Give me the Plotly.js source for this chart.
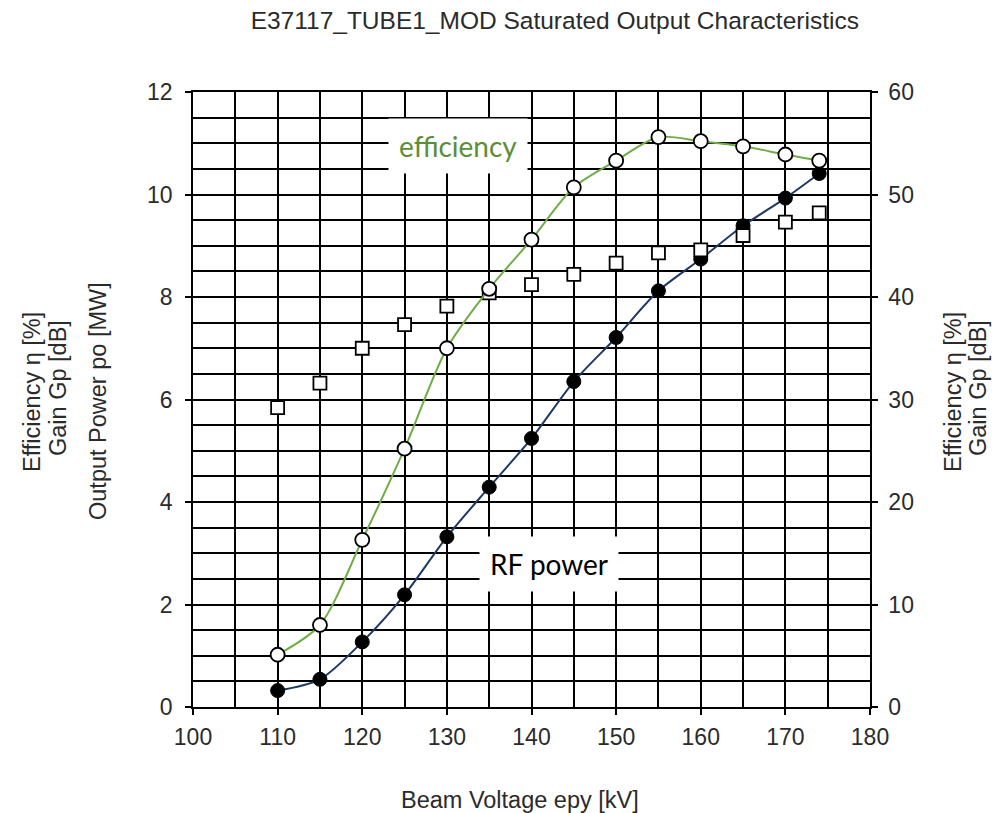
<!DOCTYPE html>
<html><head><meta charset="utf-8">
<script src="https://cdn.plot.ly/plotly-3.0.1.min.js"></script>
<style>html,body{margin:0;padding:0;background:#fff}#chart{width:996px;height:813px}</style>
</head><body><div id="chart"></div>
<script>
const voltage = [110,115,120,125,130,135,140,145,150,155,160,165,170,174];
const efficiency = [5.1,8.0,16.3,25.2,35.0,40.8,45.6,50.7,53.3,55.6,55.2,54.7,53.9,53.3];
const gain = [29.2,31.6,35.0,37.3,39.1,40.4,41.2,42.2,43.3,44.3,44.6,46.0,47.3,48.2];
const rfPower = [0.32,0.54,1.27,2.19,3.32,4.29,5.24,6.35,7.21,8.12,8.74,9.39,9.93,10.41];
const fontF = 'Liberation Sans, Arial, sans-serif';
const txt = '#2b2b2b';

const traces = [
  {x: voltage, y: gain, yaxis:'y2', mode:'markers', type:'scatter',
   marker:{symbol:'square', size:13, color:'#fff', line:{color:'#000', width:1.8}}},
  {x: voltage, y: efficiency, yaxis:'y2', mode:'lines+markers', type:'scatter',
   line:{shape:'spline', smoothing:0.8, color:'#70ad47', width:2},
   marker:{symbol:'circle', size:14, color:'#fff', line:{color:'#000', width:1.8}}},
  {x: voltage, y: rfPower, mode:'lines+markers', type:'scatter',
   line:{shape:'spline', smoothing:0.8, color:'#1f3864', width:2},
   marker:{symbol:'circle', size:14, color:'#000', line:{color:'#000', width:1}}}
];

const vlab = (x, y, text) => ({xref:'paper', yref:'paper', x:x, y:y, xanchor:'center', yanchor:'middle',
  textangle:-90, showarrow:false, text:text, font:{size:23.5, color:txt}});
const pw = 996-193-126;
const px = p => (p-193)/pw;
const py = p => (707-p)/615;

const layout = {
  width:996, height:813, showlegend:false,
  paper_bgcolor:'#fff', plot_bgcolor:'#fff',
  margin:{l:193, r:126, t:92, b:106},
  font:{family:fontF, size:23, color:txt},
  title:{text:'E37117_TUBE1_MOD Saturated Output Characteristics', x:0.557, xanchor:'center', y:0.975, yanchor:'middle', font:{size:24.5, color:txt}},
  xaxis:{range:[100,180], dtick:10, tick0:100, showgrid:true, gridcolor:'#000', gridwidth:1.5,
    minor:{dtick:5, showgrid:true, gridcolor:'#000', gridwidth:1.5},
    ticks:'outside', ticklen:6, tickcolor:'#000', tickwidth:1.5, ticklabelstandoff:3,
    showline:true, linecolor:'#000', linewidth:1.5, mirror:true, zeroline:false,
    tickfont:{size:23, color:txt}},
  yaxis:{range:[0,12], dtick:2, tick0:0, showgrid:true, gridcolor:'#000', gridwidth:1.5,
    minor:{dtick:0.5, showgrid:true, gridcolor:'#000', gridwidth:1.5},
    ticks:'outside', ticklen:6, tickcolor:'#000', tickwidth:1.5, ticklabelstandoff:8,
    showline:true, linecolor:'#000', linewidth:1.5, zeroline:false,
    tickfont:{size:23, color:txt}},
  yaxis2:{range:[0,60], dtick:10, overlaying:'y', side:'right', showgrid:false,
    ticks:'outside', ticklen:6, tickcolor:'#000', tickwidth:1.5, ticklabelstandoff:6,
    showline:true, linecolor:'#000', linewidth:1.5, zeroline:false,
    tickfont:{size:23, color:txt}},
  annotations:[
    vlab(px(32), py(392), 'Efficiency η [%]'),
    vlab(px(58), py(388), 'Gain Gp [dB]'),
    vlab(px(98), py(401), 'Output Power po [MW]'),
    vlab(px(953), py(392), 'Efficiency η [%]'),
    vlab(px(978), py(388), 'Gain Gp [dB]'),
    {xref:'paper', yref:'paper', x:px(520), y:py(800), xanchor:'center', yanchor:'middle',
     showarrow:false, text:'Beam Voltage epy [kV]', font:{size:23.5, color:txt}},
    {x:131.3, y:10.95, showarrow:false, text:'efficiency', bgcolor:'#fff', borderpad:10,
     font:{family:'Lato, Carlito, sans-serif', size:28, color:'#5a8f36'}},
    {x:142.1, y:2.79, showarrow:false, text:'RF power', bgcolor:'#fff', borderpad:10,
     font:{family:'Lato, Carlito, sans-serif', size:28, color:'#000'}}
  ]
};
Plotly.newPlot('chart', traces, layout, {displayModeBar:false});
</script></body></html>
